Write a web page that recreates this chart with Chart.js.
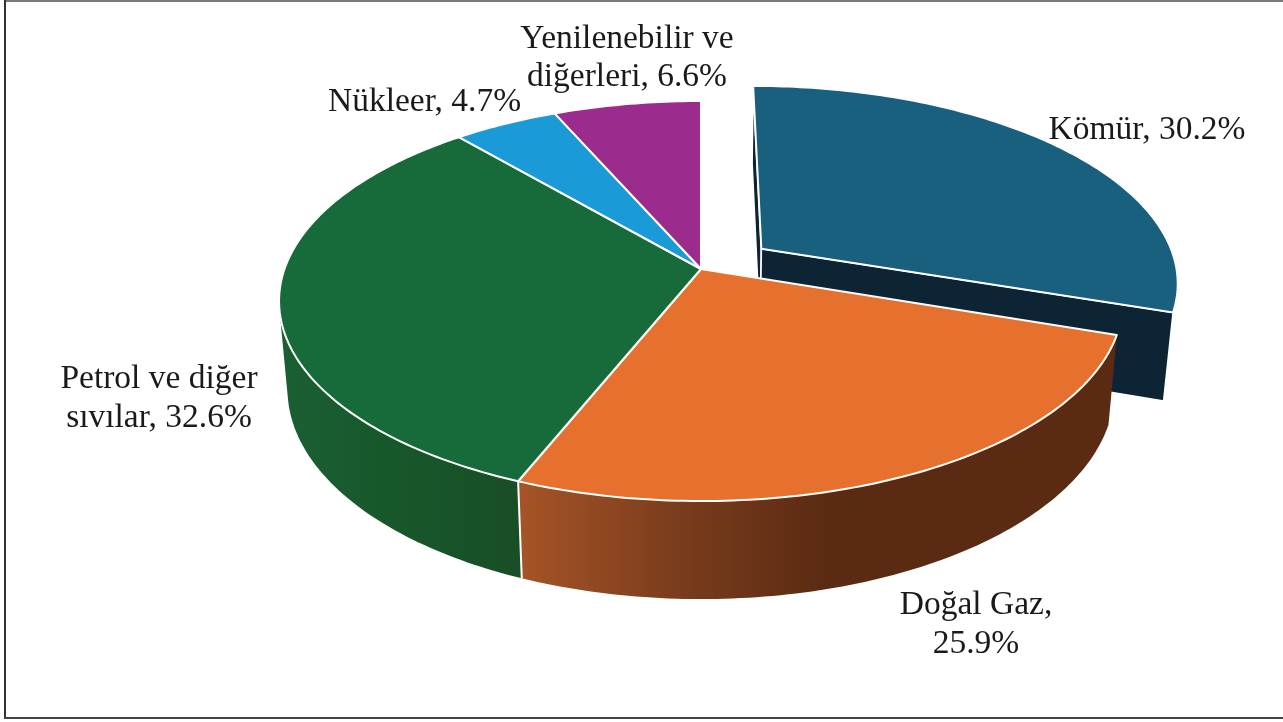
<!DOCTYPE html>
<html lang="tr">
<head>
<meta charset="utf-8">
<title>Pie</title>
<style>html,body{margin:0;padding:0;background:#fff}canvas{display:block}</style>
<script src="https://cdn.jsdelivr.net/npm/chart.js@4"></script>
</head>
<body>
<canvas id="c" width="1283" height="722"></canvas>
<script>
const categories = ['Kömür', 'Doğal Gaz', 'Petrol ve diğer sıvılar', 'Nükleer', 'Yenilenebilir ve diğerleri'];
const shares = [30.2, 25.9, 32.6, 4.7, 6.6];
const topColors = ['#19607f', '#e6702d', '#176a39', '#1a9ad6', '#9c2b8e'];
const sideColors = ['#0c2433', '#5a2a13', '#17572c', '#0e5a80', '#5c1a54'];
const offsets = [60, 0, 0, 0, 0];

// Perspective view of the pie's plane
const VIEW = {cx: 701, cy: 269, ax: 416.5, ay: 194.9, k: 0.16, bx: 0.98, by: 1.05, bc: 73};
// Label placement: centre x, first baseline, words on first line (0 = single line)
const LABELS = [
  {x: 1147, y: 139, first: 0},
  {x: 976, y: 614, first: 2},
  {x: 159, y: 388, first: 3},
  {x: 424.5, y: 111, first: 0},
  {x: 627, y: 47.5, first: 2}
];
const FONT = '33.5px "Liberation Serif"';
const LINE = 38.5;

function faceXY(u, v) {
  const w = 1 + VIEW.k * v;
  return [VIEW.cx + VIEW.ax * u / w, VIEW.cy - VIEW.ay * v / w];
}
function baseXY(p) {
  return [VIEW.cx + VIEW.bx * (p[0] - VIEW.cx), VIEW.by * p[1] + VIEW.bc];
}
function slicePoints(el) {
  const R = el.outerRadius, off = el.options.offset || 0;
  const mid = (el.startAngle + el.endAngle) / 2;
  const ou = Math.cos(mid) * off / R, ov = -Math.sin(mid) * off / R;
  const n = Math.max(8, Math.ceil((el.endAngle - el.startAngle) * 60));
  const rim = [];
  for (let i = 0; i <= n; i++) {
    const a = el.startAngle + (el.endAngle - el.startAngle) * i / n;
    rim.push(faceXY(ou + Math.cos(a), ov - Math.sin(a)));
  }
  return {apex: faceXY(ou, ov), rim};
}
function hull(points) {
  const pts = points.slice().sort((a, b) => a[0] - b[0] || a[1] - b[1]);
  const cross = (o, a, b) => (a[0] - o[0]) * (b[1] - o[1]) - (a[1] - o[1]) * (b[0] - o[0]);
  const build = list => {
    const out = [];
    list.forEach(p => {
      while (out.length > 1 && cross(out[out.length - 2], out[out.length - 1], p) <= 0) out.pop();
      out.push(p);
    });
    out.pop();
    return out;
  };
  return build(pts).concat(build(pts.slice().reverse()));
}
function poly(ctx, pts, fill, stroke, lw, close = true) {
  ctx.beginPath();
  pts.forEach((p, i) => i ? ctx.lineTo(p[0], p[1]) : ctx.moveTo(p[0], p[1]));
  if (close) ctx.closePath();
  if (fill) { ctx.fillStyle = fill; ctx.fill(); }
  if (stroke) { ctx.strokeStyle = stroke; ctx.lineWidth = lw; ctx.lineJoin = 'round'; ctx.stroke(); }
}
function wallFill(ctx, i) {
  if (i === 1) {
    const g = ctx.createLinearGradient(519, 0, 830, 0);
    g.addColorStop(0, '#a65427'); g.addColorStop(0.5, '#7b3d1c'); g.addColorStop(1, '#5a2a13');
    return g;
  }
  const g = ctx.createLinearGradient(285, 0, 520, 0);
  g.addColorStop(0, '#1a5f32'); g.addColorStop(0.5, '#17572a'); g.addColorStop(1, '#194e26');
  return g;
}
const pie3d = {
  id: 'pie3d',
  beforeDraw(chart) {
    const ctx = chart.ctx;
    ctx.save();
    ctx.fillStyle = '#fff'; ctx.fillRect(0, 0, 1283, 722);
    ctx.fillStyle = '#7a7a7a'; ctx.fillRect(4, 0, 1279, 2);
    ctx.fillStyle = '#333'; ctx.fillRect(4, 0, 2, 718);
    ctx.fillStyle = '#444'; ctx.fillRect(4, 717, 1279, 2);
    ctx.restore();
  },
  beforeDatasetDraw() { return false; },
  afterDatasetsDraw(chart) {
    const ctx = chart.ctx, arcs = chart.getDatasetMeta(0).data;
    const shapes = arcs.map(slicePoints);
    ctx.save();
    const drawFace = i => {
      const s = shapes[i];
      poly(ctx, [s.apex].concat(s.rim), arcs[i].options.backgroundColor, '#fff', 2);
    };
    // exploded slice first, so the rest of the pie hides its lower walls
    const ex = shapes[0], exFirst = ex.rim[0], exLast = ex.rim[ex.rim.length - 1];
    poly(ctx, [ex.apex, exFirst, baseXY(exFirst), baseXY(ex.apex)], sideColors[0], '#fff', 1.6);
    poly(ctx, [ex.apex, exLast, baseXY(exLast), baseXY(ex.apex)], sideColors[0], '#fff', 1.6);
    drawFace(0);
    [2, 1].forEach(i => {
      const s = shapes[i];
      poly(ctx, hull(s.rim.concat(s.rim.map(baseXY))), wallFill(ctx, i), null);
    });
    // seam between the two front walls
    const seam = shapes[2].rim[0];
    poly(ctx, [seam, baseXY(seam)], null, '#fff', 2, false);
    [1, 2, 3, 4].forEach(drawFace);
    // labels
    ctx.filter = 'blur(0.4px)';
    ctx.fillStyle = '#1a1a1a';
    ctx.font = FONT;
    ctx.textAlign = 'center';
    ctx.textBaseline = 'alphabetic';
    categories.forEach((name, i) => {
      const text = name + ', ' + shares[i].toFixed(1) + '%';
      const L = LABELS[i];
      const words = text.split(' ');
      const lines = L.first ? [words.slice(0, L.first).join(' '), words.slice(L.first).join(' ')] : [text];
      lines.forEach((t, j) => ctx.fillText(t, L.x, L.y + j * LINE));
    });
    ctx.restore();
  }
};
new Chart(document.getElementById('c'), {
  type: 'pie',
  data: {
    labels: categories,
    datasets: [{data: shares, backgroundColor: topColors, offset: offsets, borderWidth: 0}]
  },
  options: {
    responsive: false,
    animation: false,
    layout: {padding: 0},
    plugins: {legend: {display: false}, tooltip: {enabled: false}}
  },
  plugins: [pie3d]
});
</script>
</body>
</html>
